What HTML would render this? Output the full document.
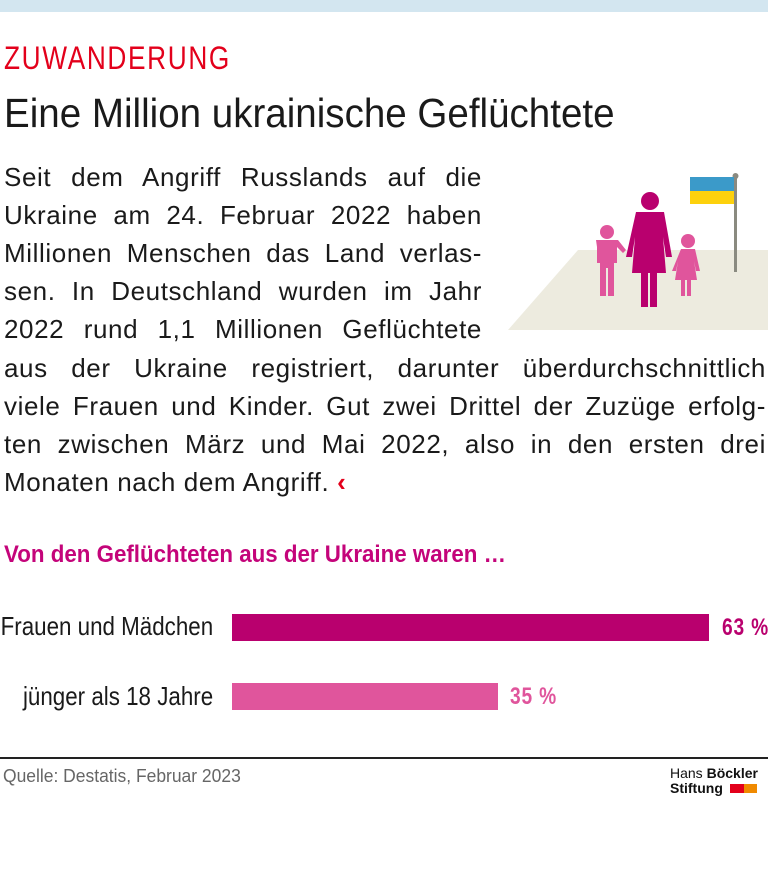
<!DOCTYPE html>
<html><head><meta charset="utf-8"><style>
body{margin:0;width:768px;height:893px;background:#fff;position:relative;overflow:hidden;font-family:"Liberation Sans",sans-serif;color:#1a1a1a}
.a{position:absolute;white-space:nowrap}
.ln{position:absolute;left:4px;font-size:26px;letter-spacing:0.6px;text-align:justify;text-align-last:justify;white-space:nowrap;line-height:30px}
.c{display:inline-block;transform-origin:0 0}
</style></head><body>
<div class="a" style="left:0;top:0;width:768px;height:12px;background:#d3e6f0"></div>
<div class="a" style="left:4px;top:40px;font-size:32px;color:#e3001b;letter-spacing:2px"><span class="c" style="transform:scaleX(0.82)">ZUWANDERUNG</span></div>
<div class="a" style="left:4px;top:90px;font-size:41px;color:#1a1a1a"><span class="c" style="transform:scaleX(0.94)">Eine Million ukrainische Geflüchtete</span></div>
<svg class="a" style="left:0;top:0" width="768" height="893">
<polygon points="508,330 578,250 768,250 768,330" fill="#edebdf"/>
<rect x="734" y="176" width="3" height="96" fill="#8a8a80"/><circle cx="735.5" cy="176" r="3" fill="#8a8a80"/>
<rect x="690" y="177" width="44" height="14" fill="#3b9ac9"/><rect x="690" y="191" width="44" height="13" fill="#fdd10d"/>
<g fill="#b9006e"><circle cx="650" cy="201" r="9"/><path d="M636,212 h28 l8,45 h-6 l-3,-20 l3,36 h-9 v34 h-7 v-34 h-2 v34 h-7 v-34 h-9 l3,-36 l-3,20 h-6z"/></g>
<g fill="#e0559c"><circle cx="607" cy="232" r="7"/><path d="M596,240 h22 l8,10 l-3,3 l-6,-6 v16 h-3 v33 h-6 v-28 h-2 v28 h-6 v-33 h-3 v-16z"/>
<circle cx="688" cy="241" r="7"/><path d="M681,249 h14 l5,22 h-4 l-2,-10 l3,19 h-6 v16 h-4 v-16 h-2 v16 h-4 v-16 h-6 l3,-19 l-2,10 h-4z"/></g>
</svg>
<div class="ln" style="top:162px;width:478px">Seit dem Angriff Russlands auf die</div>
<div class="ln" style="top:200px;width:478px">Ukraine am 24. Februar 2022 haben</div>
<div class="ln" style="top:238px;width:478px">Millionen Menschen das Land verlas-</div>
<div class="ln" style="top:276px;width:478px">sen. In Deutschland wurden im Jahr</div>
<div class="ln" style="top:314px;width:478px">2022 rund 1,1 Millionen Geflüchtete</div>
<div class="ln" style="top:353px;width:762px">aus der Ukraine registriert, darunter überdurchschnittlich</div>
<div class="ln" style="top:391px;width:762px">viele Frauen und Kinder. Gut zwei Drittel der Zuzüge erfolg-</div>
<div class="ln" style="top:429px;width:762px">ten zwischen März und Mai 2022, also in den ersten drei</div>
<div class="a" style="left:4px;top:467px;font-size:26px;letter-spacing:0.6px;line-height:30px">Monaten nach dem Angriff. <span style="color:#e3001b;font-weight:bold">‹</span></div>
<div class="a" style="left:4px;top:541px;font-size:24px;font-weight:bold;color:#c4047a"><span class="c" style="transform:scaleX(0.93)">Von den Geflüchteten aus der Ukraine waren …</span></div>
<div class="a" style="right:555px;top:611px;font-size:26px"><span class="c" style="transform:scaleX(0.86);transform-origin:100% 0">Frauen und Mädchen</span></div>
<div class="a" style="right:555px;top:681px;font-size:26px"><span class="c" style="transform:scaleX(0.86);transform-origin:100% 0">jünger als 18 Jahre</span></div>
<div class="a" style="left:232px;top:614px;width:477px;height:27px;background:#b9006e"></div>
<div class="a" style="left:232px;top:683px;width:266px;height:27px;background:#e0559c"></div>
<div class="a" style="left:722px;top:614px;font-size:24px;font-weight:bold;color:#b9006e;letter-spacing:1px"><span class="c" style="transform:scaleX(0.8)">63 %</span></div>
<div class="a" style="left:510px;top:683px;font-size:24px;font-weight:bold;color:#e0559c;letter-spacing:1px"><span class="c" style="transform:scaleX(0.8)">35 %</span></div>
<div class="a" style="left:0;top:757px;width:768px;height:2px;background:#222"></div>
<div class="a" style="left:3px;top:766px;font-size:18px;color:#666"><span class="c" style="transform:scaleX(0.97)">Quelle: Destatis, Februar 2023</span></div>
<div class="a" style="left:670px;top:766px;font-size:14px;line-height:15px;color:#111">Hans <b>Böckler</b><br><b>Stiftung</b></div>
<div class="a" style="left:730px;top:784px;width:14px;height:9px;background:#e3001b"></div>
<div class="a" style="left:744px;top:784px;width:13px;height:9px;background:#f08a00"></div>
</body></html>
